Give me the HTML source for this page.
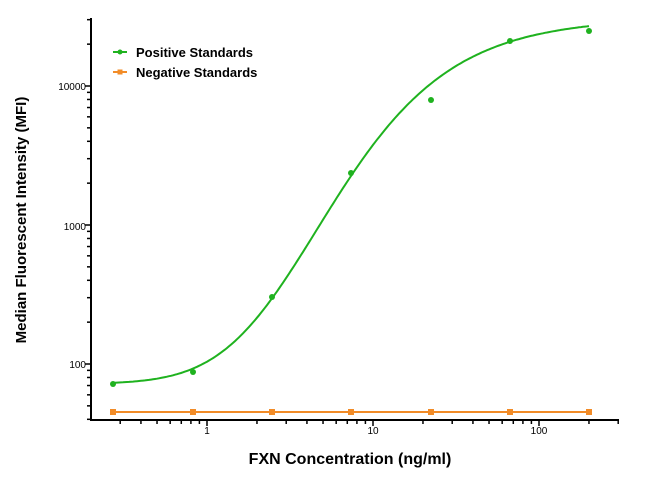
<!DOCTYPE html>
<html><head><meta charset="utf-8"><style>body{margin:0;background:#fff}svg{display:block}</style></head>
<body>
<svg id="s" width="650" height="477" xmlns="http://www.w3.org/2000/svg" font-family="Liberation Sans, Arial, sans-serif">
<rect width="650" height="477" fill="#fff"/>
<g id="ax" stroke="#000" stroke-width="2" fill="none">
<line x1="91" y1="18" x2="91" y2="421"/>
<line x1="90" y1="420" x2="619" y2="420"/>
</g>
<g id="ticks" stroke="#000" stroke-width="1.5"></g>
<g font-size="10" fill="#000" text-anchor="end">
<text x="86" y="368">100</text>
<text x="86" y="230">1000</text>
<text x="86" y="90">10000</text>
</g>
<g font-size="10" fill="#000" text-anchor="middle">
<text x="207" y="434">1</text>
<text x="373" y="434">10</text>
<text x="539" y="434">100</text>
</g>
<text x="350" y="464" font-size="16" font-weight="bold" text-anchor="middle">FXN Concentration (ng/ml)</text>
<text transform="translate(26,220) rotate(-90)" font-size="15" font-weight="bold" text-anchor="middle">Median Fluorescent Intensity (MFI)</text>
<path id="curve" fill="none" stroke="#1fb21f" stroke-width="2"/>
<line x1="113" y1="412" x2="589" y2="412" stroke="#f28c28" stroke-width="2"/>
<g id="pts"></g>
<line x1="113" y1="52" x2="127" y2="52" stroke="#1fb21f" stroke-width="2"/>
<circle cx="120" cy="52" r="2.5" fill="#1fb21f"/>
<line x1="113" y1="72" x2="127" y2="72" stroke="#f28c28" stroke-width="2"/>
<rect x="117.5" y="69.5" width="5" height="5" fill="#f28c28"/>
<text x="136" y="57" font-size="13" font-weight="bold">Positive Standards</text>
<text x="136" y="77" font-size="13" font-weight="bold">Negative Standards</text>
</svg>
<script>
var X=function(v){return 207+166*Math.log10(v)};
var Y=function(v){return 364-139*(Math.log10(v)-2)};
var t=document.getElementById('ticks'),h='';
for(var d=-1;d<=2;d++)for(var k=1;k<10;k++){var v=k*Math.pow(10,d);var x=X(v);if(x<92||x>619)continue;var L=k==1?6:4;h+='<line x1="'+x+'" y1="420" x2="'+x+'" y2="'+(420+L)+'"/>';}
for(var d=1;d<=4;d++)for(var k=1;k<10;k++){var v=k*Math.pow(10,d);var y=Y(v);if(y>420||y<18)continue;var L=k==1?6:4;h+='<line x1="'+(91-L)+'" y1="'+y+'" x2="91" y2="'+y+'"/>';}
t.innerHTML=h;
function fy(x){return 384-366*Math.pow(1/(1+Math.exp(-(x-238)/71.8)),3);}
var p='';for(var x=113;x<=589;x+=2){p+=(x==113?'M':'L')+x+','+fy(x).toFixed(1);}
document.getElementById('curve').setAttribute('d',p);
var xs=[113,193,272,351,431,510,589],py=[384,372,297,173,100,41,31],g='';
for(var i=0;i<7;i++){g+='<circle cx="'+xs[i]+'" cy="'+py[i]+'" r="3" fill="#1fb21f"/>';g+='<rect x="'+(xs[i]-3)+'" y="409" width="6" height="6" fill="#f28c28"/>';}
document.getElementById('pts').innerHTML=g;
</script>
</body></html>
